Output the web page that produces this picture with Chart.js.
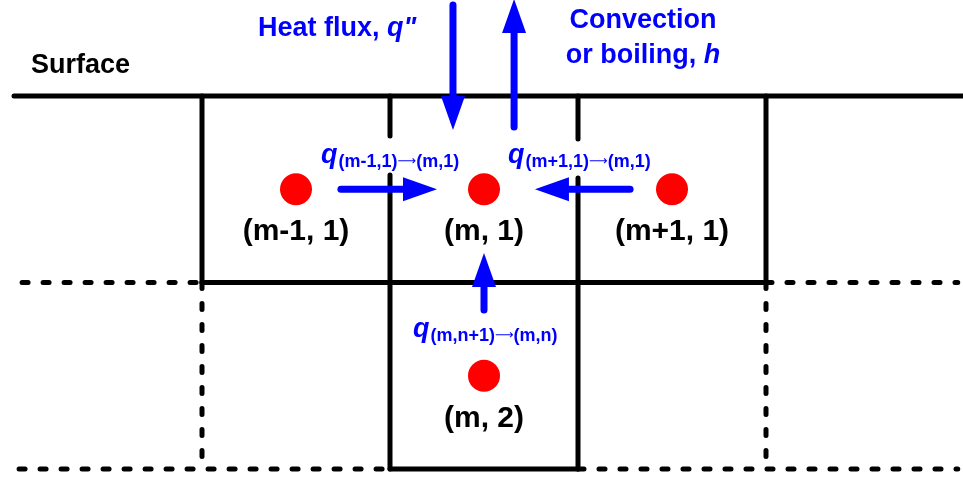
<!DOCTYPE html>
<html>
<head>
<meta charset="utf-8">
<script src="https://cdn.jsdelivr.net/npm/chart.js@4.4.1/dist/chart.umd.min.js"></script>
<style>
  html, body { margin: 0; padding: 0; background: #fff; }
  canvas { display: block; }
</style>
</head>
<body>
<canvas id="grid" width="963" height="478"></canvas>
<script>
// grid units: one cell = 1, x = 0 at the left column line, y = 0 at the surface (depth downwards)
var nodeNames = ["(m-1, 1)", "(m, 1)", "(m+1, 1)", "(m, 2)"];
var nodeX = [0.5, 1.5, 2.5, 1.5];
var nodeY = [0.5, 0.5, 0.5, 1.5];

var surfaceLine = [[-1.0, 0], [4.2, 0]];
var solidLines = [
    [[0, 0], [0, 1]],
    [[3, 0], [3, 1]],
    [[0, 1], [3, 1]],
    [[1, 0], [1, 0.214]],
    [[1, 0.424], [1, 2]],
    [[2, 0], [2, 0.23]],
    [[2, 0.44], [2, 2]],
    [[1, 2], [2, 2]]
];
var dashedLines = [
    [[-0.957, 1], [0, 1]],
    [[3, 1], [4.02, 1]],
    [[-0.973, 2], [1, 2]],
    [[2, 2], [4.02, 2]],
    [[0, 1], [0, 2]],
    [[3, 1], [3, 2]]
];

// heat flow arrows: [fromX, fromY, toX, toY]
var flowArrows = [
    [1.335, -0.488, 1.335, 0.182],
    [1.66, 0.166, 1.66, -0.52],
    [0.739, 0.5, 1.25, 0.5],
    [2.277, 0.5, 1.771, 0.5],
    [1.5, 1.147, 1.5, 0.842]
];
// flux labels: q with a subscript "from -> to"
var fluxFrom = ["(m-1,1)", "(m+1,1)", "(m,n+1)"];
var fluxTo = ["(m,1)", "(m,1)", "(m,n)"];
var fluxX = [0.633, 1.628, 1.122];
var fluxY = [0.359, 0.359, 1.292];

var titleTexts = ["Surface", "Heat flux, ", "Convection", "or boiling, "];
var titleItalic = ["", "q\"", "", "h"];
var titleX = [-0.91, 0.298, 2.346, 2.346];
var titleY = [-0.123, -0.322, -0.365, -0.177];

var BLUE = "#0000ff";
var FONT = "'Liberation Sans', Arial, sans-serif";

function segment(seg, dashed){
    var ds = {
        data: seg.map(function(p){ return {x: p[0], y: p[1]}; }),
        showLine: true, borderColor: "#000", borderWidth: 5, pointRadius: 0,
        borderCapStyle: "round"
    };
    if (dashed) ds.borderDash = [6, 15];
    return ds;
}

var lineSets = [segment(surfaceLine, false)];
solidLines.forEach(function(seg){ lineSets.push(segment(seg, false)); });
dashedLines.forEach(function(seg){ lineSets.push(segment(seg, true)); });

var nodeSet = {
    data: nodeX.map(function(x, i){ return {x: x, y: nodeY[i]}; }),
    showLine: false, pointRadius: 16, pointHoverRadius: 16,
    pointBackgroundColor: "#ff0000", pointBorderWidth: 0, borderColor: "#ff0000"
};

function drawArrow(ctx, x1, y1, x2, y2){
    var ang = Math.atan2(y2 - y1, x2 - x1);
    var head = 34, half = 12;
    var bx = x2 - Math.cos(ang) * head, by = y2 - Math.sin(ang) * head;
    ctx.strokeStyle = BLUE;
    ctx.lineWidth = 7;
    ctx.lineCap = "round";
    ctx.beginPath();
    ctx.moveTo(x1, y1);
    ctx.lineTo(bx + Math.cos(ang) * 2, by + Math.sin(ang) * 2);
    ctx.stroke();
    ctx.fillStyle = BLUE;
    ctx.beginPath();
    ctx.moveTo(x2, y2);
    ctx.lineTo(bx - Math.sin(ang) * half, by + Math.cos(ang) * half);
    ctx.lineTo(bx + Math.sin(ang) * half, by - Math.cos(ang) * half);
    ctx.closePath();
    ctx.fill();
}

var annotations = {
    id: "annotations",
    afterDatasetsDraw: function(chart){
        var ctx = chart.ctx;
        var xs = chart.scales.x, ys = chart.scales.y;
        ctx.save();
        ctx.textBaseline = "alphabetic";

        // node labels under each dot
        ctx.fillStyle = "#000";
        ctx.font = "bold 30px " + FONT;
        ctx.textAlign = "center";
        nodeNames.forEach(function(n, i){
            ctx.fillText(n, xs.getPixelForValue(nodeX[i]), ys.getPixelForValue(nodeY[i]) + 51);
        });

        // arrows
        flowArrows.forEach(function(a){
            drawArrow(ctx, xs.getPixelForValue(a[0]), ys.getPixelForValue(a[1]),
                           xs.getPixelForValue(a[2]), ys.getPixelForValue(a[3]));
        });

        // flux labels
        ctx.textAlign = "left";
        ctx.fillStyle = BLUE;
        fluxFrom.forEach(function(s, i){
            var px = xs.getPixelForValue(fluxX[i]), py = ys.getPixelForValue(fluxY[i]);
            ctx.font = "italic bold 27px " + FONT;
            ctx.fillText("q", px, py);
            px += ctx.measureText("q").width + 1;
            ctx.font = "bold 18px " + FONT;
            ctx.fillText(s, px, py + 4);
            px += ctx.measureText(s).width;
            ctx.font = "13px 'DejaVu Sans', sans-serif";
            ctx.fillText("\u27F6", px, py + 2);
            px += ctx.measureText("\u27F6").width;
            ctx.font = "bold 18px " + FONT;
            ctx.fillText(fluxTo[i], px, py + 4);
        });

        // titles
        titleTexts.forEach(function(t, i){
            var px = xs.getPixelForValue(titleX[i]), py = ys.getPixelForValue(titleY[i]);
            ctx.fillStyle = i === 0 ? "#000" : BLUE;
            ctx.font = "bold 27px " + FONT;
            var w1 = ctx.measureText(t).width;
            ctx.font = "italic bold 27px " + FONT;
            var w2 = ctx.measureText(titleItalic[i]).width;
            var start = px;
            if (i >= 2) start = px - (w1 + w2) / 2;
            ctx.font = "bold 27px " + FONT;
            ctx.fillText(t, start, py);
            ctx.font = "italic bold 27px " + FONT;
            ctx.fillText(titleItalic[i], start + w1, py);
        });
        ctx.restore();
    }
};

var xMin = -202 / 188, yMin = -96 / 186.5;
new Chart(document.getElementById("grid").getContext("2d"), {
    type: "scatter",
    data: { datasets: lineSets.concat([nodeSet]) },
    options: {
        responsive: false,
        animation: false,
        events: [],
        layout: { padding: 0, autoPadding: false },
        plugins: { legend: { display: false }, tooltip: { enabled: false } },
        scales: {
            x: { type: "linear", display: false, bounds: "data", min: xMin, max: xMin + 963 / 188 },
            y: { type: "linear", display: false, bounds: "data", reverse: true, min: yMin, max: yMin + 478 / 186.5 }
        }
    },
    plugins: [annotations]
});
</script>
</body>
</html>
